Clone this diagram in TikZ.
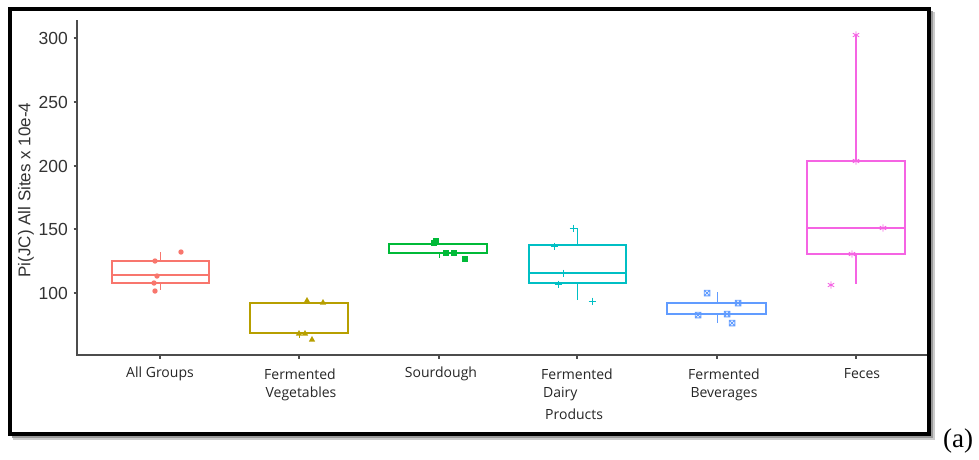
\documentclass[tikz,border=0pt]{standalone}
\usepackage{fontspec}
\setmainfont{Liberation Serif}
\newfontfamily\axisfont{Liberation Sans}
\newfontfamily\catfont{Open Sans}
\definecolor{cA}{HTML}{F8766D}
\definecolor{cB}{HTML}{B79F00}
\definecolor{cC}{HTML}{00BA38}
\definecolor{cD}{HTML}{00BFC4}
\definecolor{cE}{HTML}{619CFF}
\definecolor{cF}{HTML}{F564E3}
\newcommand\mkcirc[3]{\fill[#1] (#2,#3) circle (2.7);}
\newcommand\mktri[3]{\fill[#1] (#2-3.2,#3+2.6) -- (#2+3.2,#3+2.6) -- (#2,#3-3) -- cycle;}
\newcommand\mksq[3]{\fill[#1] (#2-2.8,#3-2.8) rectangle (#2+2.8,#3+2.8);}
\newcommand\mkplus[3]{\draw[#1,line width=1pt] (#2-3.5,#3) -- (#2+3.5,#3) (#2,#3-3.5) -- (#2,#3+3.5);}
\newcommand\mkbx[3]{\draw[#1,line width=0.9pt] (#2-2.8,#3-2.8) rectangle (#2+2.8,#3+2.8) (#2-2.8,#3-2.8) -- (#2+2.8,#3+2.8) (#2-2.8,#3+2.8) -- (#2+2.8,#3-2.8);}
\newcommand\mkast[3]{\draw[#1,line width=0.9pt] (#2,#3-3.6) -- (#2,#3+3.6) (#2-3.2,#3-1.8) -- (#2+3.2,#3+1.8) (#2-3.2,#3+1.8) -- (#2+3.2,#3-1.8);}
\tikzset{
  boxln/.style={line width=1.1pt},
  medln/.style={line width=2pt},
  cat/.style={font=\catfont\fontsize{14}{16}\selectfont, text=black!85, inner sep=0pt},
  ytick/.style={font=\axisfont\fontsize{17.5}{19}\selectfont, text=black!80, anchor=east, inner sep=0pt},
}
\begin{document}
\begin{tikzpicture}[x=1pt,y=-1pt]
\useasboundingbox (0,0) rectangle (979,459);
\fill[white] (0,0) rectangle (979,459);
% shadow and frame
\fill[black!20] (13,12) rectangle (935,440);
\fill[black!40] (12,11) rectangle (933,438);
\draw[line width=4pt, fill=white] (10,9) rectangle (929,434);
% axes
\draw[black!70, line width=1.2pt] (77,20) -- (77,355) -- (927,355);
\foreach \yy in {38,102,166,229,293} \draw[black!70, line width=1.2pt] (73.5,\yy) -- (77,\yy);
\foreach \xx in {160,299,439,577,717,856} \draw[black!70, line width=1.2pt] (\xx,355) -- (\xx,358.5);
\node[ytick] (t300) at (68,38) {300};
\node[ytick] (t250) at (68,102) {250};
\node[ytick] (t200) at (68,166) {200};
\node[ytick] (t150) at (68,229) {150};
\node[ytick] (t100) at (68,293) {100};
\node[rotate=90, font=\axisfont\fontsize{17}{19}\selectfont, text=black!80, inner sep=0pt] (ylab) at (26,190) {Pi(JC) All Sites x 10e-4};
% All Groups
\draw[cA] (160,252) -- (160,261) (160,283) -- (160,290);
\draw[cA,boxln] (112,261) rectangle (209,283);
\draw[cA,medln] (112,275) -- (209,275);
\mkcirc{cA}{155}{261}\mkcirc{cA}{181}{252}\mkcirc{cA}{157}{276}\mkcirc{cA}{154}{283}\mkcirc{cA}{155}{291}
% Fermented Vegetables
\draw[cB] (299,333) -- (299,338);
\draw[cB,boxln] (250,303) rectangle (348,333);
\draw[cB,medln] (250,333) -- (348,333);
\mktri{cB}{307}{300}\mktri{cB}{323}{302}\mktri{cB}{299}{333}\mktri{cB}{305}{333}\mktri{cB}{312}{339}
% Sourdough
\draw[cC] (439,253) -- (439,258);
\draw[cC,boxln] (389,244) rectangle (487,253);
\draw[cC,medln] (389,253) -- (487,253);
\mksq{cC}{434}{243}\mksq{cC}{436}{241}\mksq{cC}{446}{253}\mksq{cC}{454}{253}\mksq{cC}{465}{259}
% Fermented Dairy Products
\draw[cD] (577,228) -- (577,245) (577,283) -- (577,300);
\draw[cD,boxln] (529,245) rectangle (626,283);
\draw[cD,medln] (529,273) -- (626,273);
\mkplus{cD}{573}{228}\mkplus{cD}{554}{246}\mkplus{cD}{563}{273}\mkplus{cD}{558}{284}\mkplus{cD}{592}{301}
% Fermented Beverages
\draw[cE] (717,292) -- (717,303) (717,314) -- (717,323);
\draw[cE,boxln] (667,303) rectangle (766,314);
\draw[cE,medln] (667,314) -- (766,314);
\mkbx{cE}{707}{293}\mkbx{cE}{738}{303}\mkbx{cE}{698}{315}\mkbx{cE}{727}{314}\mkbx{cE}{732}{323}
% Feces
\draw[cF,boxln] (856,35) -- (856,161) (856,254) -- (856,284);
\draw[cF,boxln] (807,161) rectangle (905,254);
\draw[cF,medln] (807,228) -- (905,228);
\mkast{cF}{856}{35}\mkast{cF}{856}{161}\mkast{cF}{883}{228}\mkast{cF}{852}{254}\mkast{cF}{831}{285}
% category labels
\node[cat] (l1) at (160,374) {All Groups};
\node[cat] (l2a) at (300,374) {Fermented};
\node[cat] (l2b) at (301,394) {Vegetables};
\node[cat] (l3) at (441,374) {Sourdough};
\node[cat] (l4a) at (577,374) {Fermented};
\node[cat, anchor=west] (l4b) at (543,394) {Dairy};
\node[cat, anchor=west] (l4c) at (545,414) {Products};
\node[cat] (l5a) at (724,374) {Fermented};
\node[cat] (l5b) at (724,394) {Beverages};
\node[cat] (l6) at (862,374) {Feces};
\node[font=\fontsize{27}{29}\selectfont, inner sep=0pt] (tag) at (958,441) {(a)};
\end{tikzpicture}
\end{document}
